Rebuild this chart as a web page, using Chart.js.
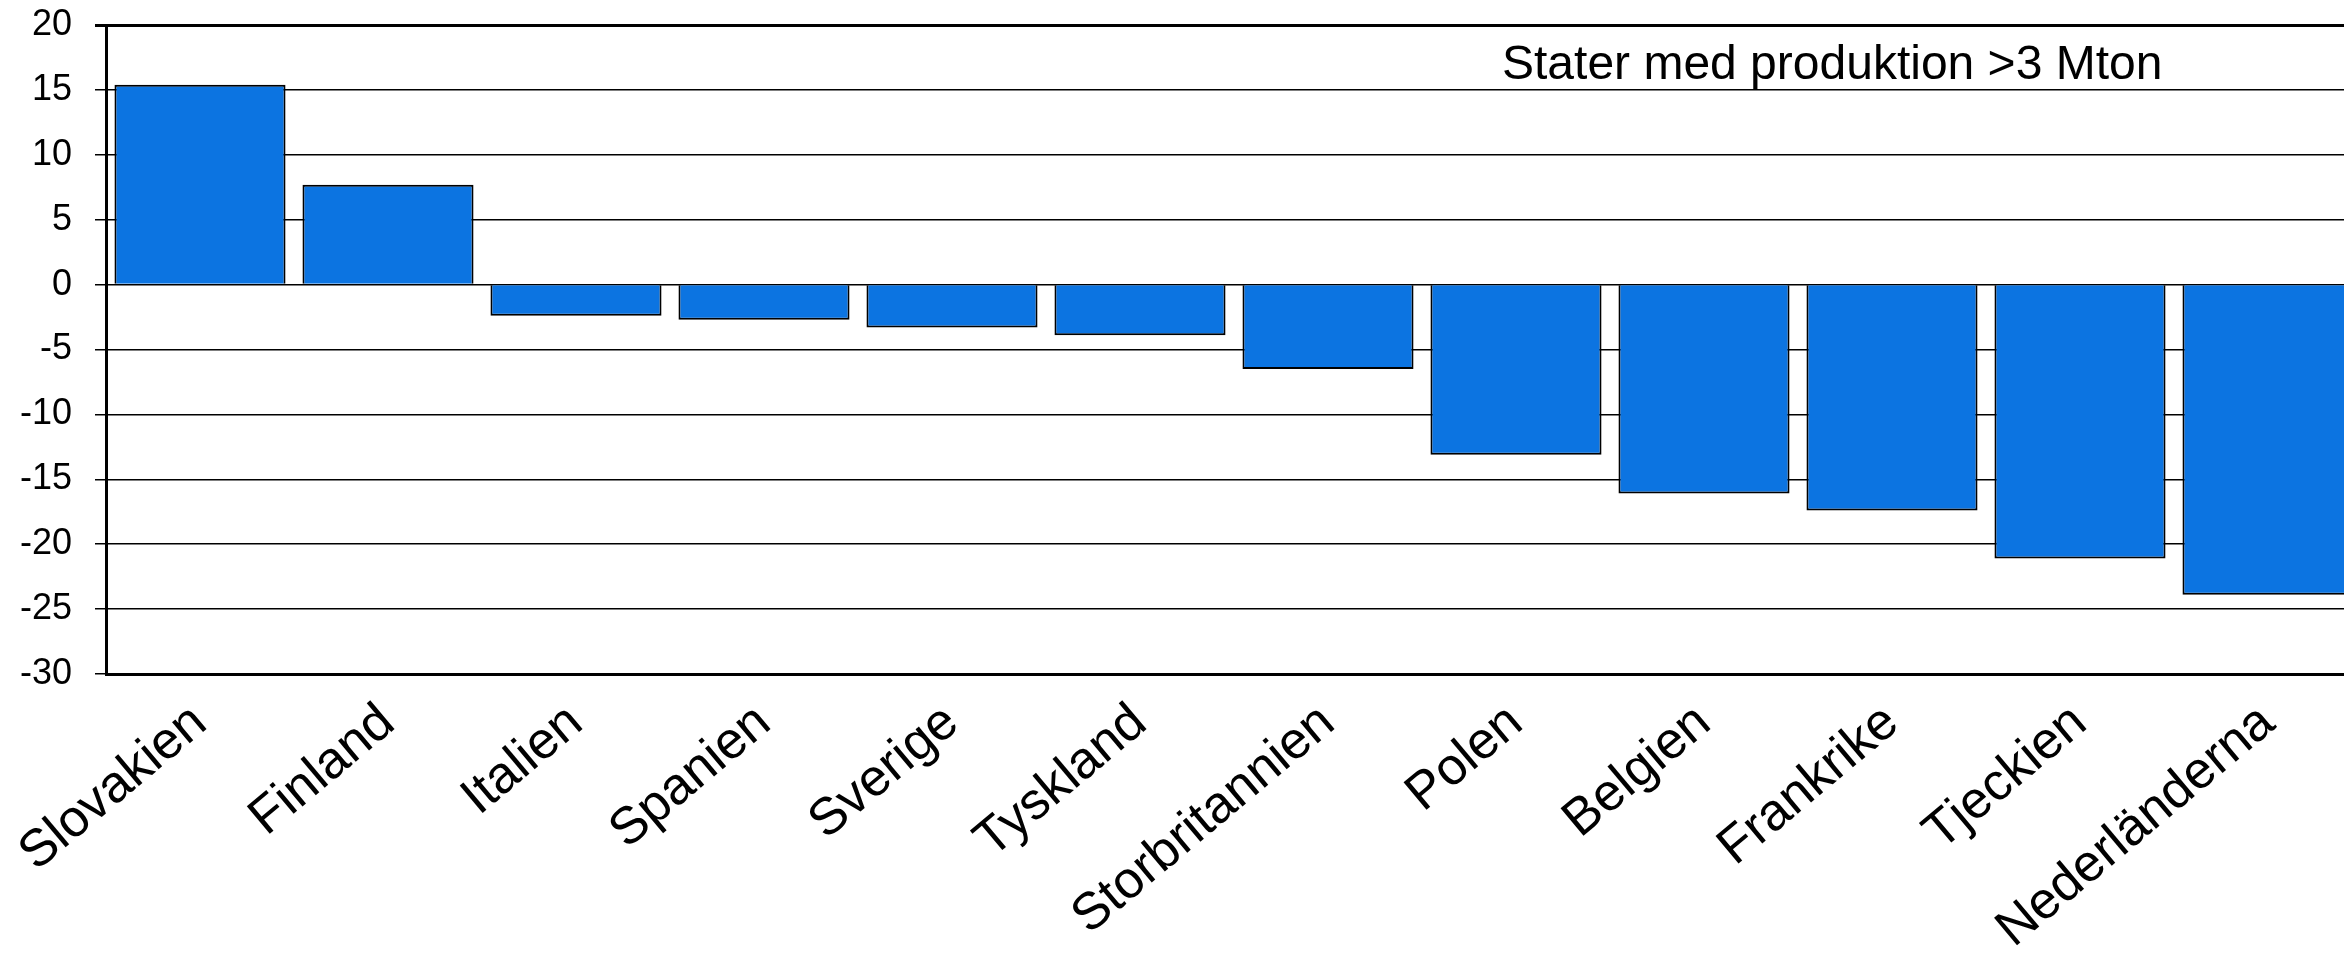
<!DOCTYPE html>
<html>
<head>
<meta charset="utf-8">
<script src="https://cdn.jsdelivr.net/npm/chart.js@4/dist/chart.umd.min.js"></script>
<style>
  html, body { margin: 0; padding: 0; background: #fff; overflow: hidden; }
  #wrap { width: 2362px; height: 954px; }
</style>
</head>
<body>
<div id="wrap"><canvas id="chart" width="2362" height="954"></canvas></div>
<script>
// Data
const countries = ["Slovakien", "Finland", "Italien", "Spanien", "Sverige", "Tyskland",
    "Storbritannien", "Polen", "Belgien", "Frankrike", "Tjeckien", "Nederländerna"];
const changes = [15.4, 7.7, -2.4, -2.7, -3.3, -3.9, -6.5, -13.1, -16.1, -17.4, -21.1, -23.9];
const yTicks = [20, 15, 10, 5, 0, -5, -10, -15, -20, -25, -30];
const noteText = "Stater med produktion >3 Mton";

const font = "'Liberation Sans', Arial, sans-serif";

// Note in top right of plot
const notePlugin = {
    id: "note",
    afterDraw(chart) {
        const c = chart.ctx;
        c.save();
        c.font = "48px " + font;
        c.fillStyle = "#000";
        c.textBaseline = "middle";
        c.textAlign = "left";
        c.fillText(noteText, 1502, 66);
        c.restore();
    }
};

const ctx = document.getElementById("chart").getContext("2d");
new Chart(ctx, {
    type: "bar",
    data: {
        labels: countries,
        datasets: [{
            data: changes,
            backgroundColor: "#0c74e1",
            borderColor: "#000",
            borderWidth: 2,
            categoryPercentage: 1,
            barPercentage: 0.91
        }]
    },
    options: {
        responsive: false,
        animation: false,
        layout: { padding: { top: 25, right: 0, left: 0, bottom: 0 } },
        plugins: {
            legend: { display: false },
            tooltip: { enabled: false }
        },
        scales: {
            x: {
                grid: { display: false },
                border: { display: true, color: "#000", width: 3 },
                ticks: {
                    color: "#000",
                    font: { family: font, size: 52 },
                    minRotation: 40,
                    maxRotation: 40,
                    autoSkip: false,
                    padding: 10
                },
                afterFit(scale) {
                    scale.height = 280;
                    scale.paddingLeft = 0;
                    scale.paddingRight = 0;
                }
            },
            y: {
                min: -30,
                max: 20,
                afterBuildTicks(scale) {
                    scale.ticks = yTicks.map(v => ({ value: v }));
                },
                grid: {
                    color: "#000",
                    lineWidth: c => (c.tick && c.tick.value === 20 ? 3 : 1.5),
                    tickLength: 11,
                    drawTicks: true
                },
                border: { display: true, color: "#000", width: 3 },
                ticks: {
                    color: "#000",
                    font: { family: font, size: 36 },
                    padding: 23
                },
                afterFit(scale) {
                    scale.width = 106;
                    scale.paddingTop = 0;
                    scale.paddingBottom = 0;
                }
            }
        }
    },
    plugins: [notePlugin]
});
</script>
</body>
</html>
